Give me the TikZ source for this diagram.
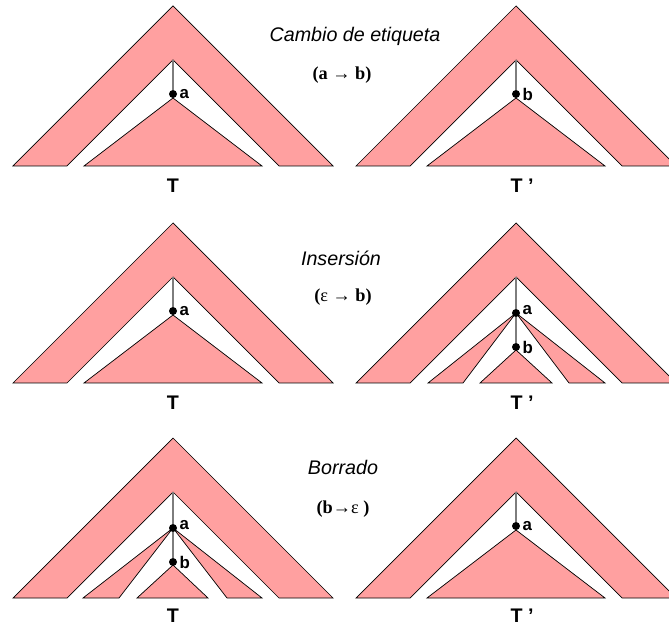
\documentclass[tikz,border=0pt]{standalone}
\usepackage{fontspec}
\setmainfont{Liberation Serif}
\setsansfont{Liberation Sans}
\usepackage{tikz}
\usetikzlibrary{positioning}
\definecolor{treepink}{RGB}{255,160,160}
\definecolor{stemgray}{RGB}{125,125,125}

\begin{document}
\begin{tikzpicture}[x=0.025cm,y=-0.025cm,
  band/.style={fill=treepink,draw=black,line width=0.5pt},
  stem/.style={draw=stemgray,line width=0.8pt},
  knot/.style={circle,fill=black,inner sep=0pt,minimum size=0.2cm},
  lbl/.style={font=\sffamily\bfseries\fontsize{12}{12}\selectfont,inner sep=0.5pt},
  tname/.style={font=\sffamily\bfseries\fontsize{14}{14}\selectfont},
  optitle/.style={font=\sffamily\itshape\fontsize{14}{14}\selectfont},
  editrule/.style={font=\bfseries\fontsize{13}{13}\selectfont}]
  \useasboundingbox (0,0) rectangle (669,628);
  \clip (0,0) rectangle (669,628);

  % ---- Cambio de etiqueta ----
  \node[optitle] (title-1) at (355,36) {Cambio de etiqueta};
  \node[editrule] (rule-1) at (342,75) {(a {\mdseries →} b)};
  % T
  \begin{scope}[shift={(173,166)}]
    \draw[band] (-160,0) -- (0,-160) -- (160,0) -- (106,0) -- (0,-106) -- (-106,0) -- cycle;
    \draw[band] (-89,0) -- (0,-68) -- (89,0) -- cycle;
    \coordinate (top-1l) at (0,-106);
    \node[knot] (a-1l) at (0,-72) {};
    \draw[stem] (top-1l) -- (a-1l);
    \node[lbl,right=1pt of a-1l] {a};
    \node[tname] (t-1l) at (0,20) {T};
  \end{scope}
  % T'
  \begin{scope}[shift={(516,166)}]
    \draw[band] (-160,0) -- (0,-160) -- (160,0) -- (106,0) -- (0,-106) -- (-106,0) -- cycle;
    \draw[band] (-89,0) -- (0,-68) -- (89,0) -- cycle;
    \coordinate (top-1r) at (0,-106);
    \node[knot] (b-1r) at (0,-72) {};
    \draw[stem] (top-1r) -- (b-1r);
    \node[lbl,right=1pt of b-1r] {b};
    \node[tname] (t-1r) at (6,20) {T '};
  \end{scope}

  % ---- Insersion ----
  \node[optitle] (title-2) at (341,258) {Insersión};
  \node[editrule] (rule-2) at (343,297) {({\mdseries ε →} b)};
  % T
  \begin{scope}[shift={(173,383)}]
    \draw[band] (-160,0) -- (0,-160) -- (160,0) -- (106,0) -- (0,-106) -- (-106,0) -- cycle;
    \draw[band] (-89,0) -- (0,-68) -- (89,0) -- cycle;
    \coordinate (top-2l) at (0,-106);
    \node[knot] (a-2l) at (0,-72) {};
    \draw[stem] (top-2l) -- (a-2l);
    \node[lbl,right=1pt of a-2l] {a};
    \node[tname] (t-2l) at (0,20) {T};
  \end{scope}
  % T' with b inserted under a
  \begin{scope}[shift={(516,383)}]
    \draw[band] (-160,0) -- (0,-160) -- (160,0) -- (106,0) -- (0,-106) -- (-106,0) -- cycle;
    \draw[band] (-88,0) -- (0,-70) -- (-53,0) -- cycle;
    \draw[band] (53,0) -- (0,-70) -- (89,0) -- cycle;
    \draw[band] (-36,0) -- (0,-33) -- (36,0) -- cycle;
    \coordinate (top-2r) at (0,-106);
    \node[knot] (a-2r) at (0,-70) {};
    \node[knot] (b-2r) at (0,-36) {};
    \draw[stem] (top-2r) -- (a-2r) -- (b-2r);
    \node[lbl,right=1pt of a-2r,yshift=2pt] {a};
    \node[lbl,right=1pt of b-2r] {b};
    \node[tname] (t-2r) at (6,20) {T '};
  \end{scope}

  % ---- Borrado ----
  \node[optitle] (title-3) at (343,467) {Borrado};
  \node[editrule] (rule-3) at (343,509) {(b{\mdseries →ε} )};
  % T
  \begin{scope}[shift={(173,598)}]
    \draw[band] (-160,0) -- (0,-160) -- (160,0) -- (106,0) -- (0,-106) -- (-106,0) -- cycle;
    \draw[band] (-90,0) -- (0,-70) -- (-54,0) -- cycle;
    \draw[band] (54,0) -- (0,-70) -- (89,0) -- cycle;
    \draw[band] (-36,0) -- (0,-33) -- (35,0) -- cycle;
    \coordinate (top-3l) at (0,-106);
    \node[knot] (a-3l) at (0,-70) {};
    \node[knot] (b-3l) at (0,-36) {};
    \draw[stem] (top-3l) -- (a-3l) -- (b-3l);
    \node[lbl,right=1pt of a-3l,yshift=2pt] {a};
    \node[lbl,right=1pt of b-3l] {b};
    \node[tname] (t-3l) at (0,18) {T};
  \end{scope}
  % T' with b removed
  \begin{scope}[shift={(516,598)}]
    \draw[band] (-160,0) -- (0,-160) -- (160,0) -- (106,0) -- (0,-106) -- (-106,0) -- cycle;
    \draw[band] (-89,0) -- (0,-68) -- (89,0) -- cycle;
    \coordinate (top-3r) at (0,-106);
    \node[knot] (a-3r) at (0,-72) {};
    \draw[stem] (top-3r) -- (a-3r);
    \node[lbl,right=1pt of a-3r] {a};
    \node[tname] (t-3r) at (6,18) {T '};
  \end{scope}
\end{tikzpicture}
\end{document}
